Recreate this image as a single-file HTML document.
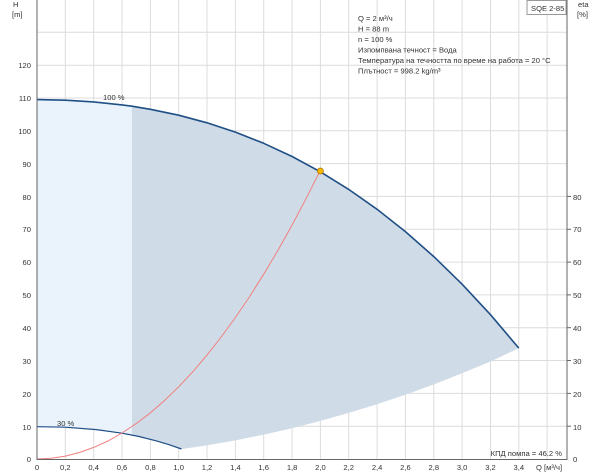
<!DOCTYPE html>
<html><head><meta charset="utf-8"><style>
html,body{margin:0;padding:0;background:#fff;}
svg{display:block;font-family:"Liberation Sans",sans-serif;}
text{font-size:7.6px;fill:#333;}
</style></head><body>
<svg width="600" height="474" viewBox="0 0 600 474">
<g stroke="#dcdcdc" stroke-width="1">
<line x1="65.3" y1="0" x2="65.3" y2="459"/><line x1="93.7" y1="0" x2="93.7" y2="459"/><line x1="122" y1="0" x2="122" y2="459"/><line x1="150.4" y1="0" x2="150.4" y2="459"/><line x1="178.7" y1="0" x2="178.7" y2="459"/><line x1="207" y1="0" x2="207" y2="459"/><line x1="235.4" y1="0" x2="235.4" y2="459"/><line x1="263.7" y1="0" x2="263.7" y2="459"/><line x1="292.1" y1="0" x2="292.1" y2="459"/><line x1="320.4" y1="0" x2="320.4" y2="459"/><line x1="348.7" y1="0" x2="348.7" y2="459"/><line x1="377.1" y1="0" x2="377.1" y2="459"/><line x1="405.4" y1="0" x2="405.4" y2="459"/><line x1="433.8" y1="0" x2="433.8" y2="459"/><line x1="462.1" y1="0" x2="462.1" y2="459"/><line x1="490.5" y1="0" x2="490.5" y2="459"/><line x1="518.8" y1="0" x2="518.8" y2="459"/><line x1="547.1" y1="0" x2="547.1" y2="459"/>
<line x1="37" y1="426.2" x2="567" y2="426.2"/><line x1="37" y1="393.4" x2="567" y2="393.4"/><line x1="37" y1="360.5" x2="567" y2="360.5"/><line x1="37" y1="327.7" x2="567" y2="327.7"/><line x1="37" y1="294.9" x2="567" y2="294.9"/><line x1="37" y1="262.1" x2="567" y2="262.1"/><line x1="37" y1="229.3" x2="567" y2="229.3"/><line x1="37" y1="196.4" x2="567" y2="196.4"/><line x1="37" y1="163.6" x2="567" y2="163.6"/><line x1="37" y1="130.8" x2="567" y2="130.8"/><line x1="37" y1="98" x2="567" y2="98"/><line x1="37" y1="65.2" x2="567" y2="65.2"/><line x1="37" y1="32.3" x2="567" y2="32.3"/>
</g>
<path d="M37,99.6 L65.3,100.2 L93.7,101.9 L122,104.9 L131.9,106.2 L131.9,435 L122,433.2 L96.5,429.6 L65.3,427.2 L37,426.7 Z" fill="#eaf3fc"/>
<path d="M131.9,106.2 L150.4,109.3 L178.7,115.2 L207,122.8 L235.4,132.1 L263.7,143.3 L292.1,156.5 L320.4,171.8 L348.7,189.4 L377.1,209.3 L405.4,231.6 L433.8,256.6 L462.1,284.2 L490.5,314.7 L518.8,348.1 L490.5,361.5 L462.1,373.3 L433.8,384.4 L405.4,394.7 L377.1,404.2 L348.7,412.9 L320.4,420.9 L292.1,428.2 L263.7,434.6 L235.4,440.4 L207,445.3 L181.5,449.1 L168.8,444.6 L156,440.8 L139,436.5 L131.9,435 Z" fill="#cfdbe6"/>
<path d="M37,99.6 L65.3,100.2 L93.7,101.9 L122,104.9 L131.9,106.2 L150.4,109.3 L178.7,115.2 L207,122.8 L235.4,132.1 L263.7,143.3 L292.1,156.5 L320.4,171.8 L348.7,189.4 L377.1,209.3 L405.4,231.6 L433.8,256.6 L462.1,284.2 L490.5,314.7 L518.8,348.1" fill="none" stroke="#1f4f86" stroke-width="1.6" stroke-linejoin="round"/>
<path d="M37,426.7 L65.3,427.2 L96.5,429.6 L122,433.2 L139,436.5 L156,440.8 L168.8,444.6 L181.5,449" fill="none" stroke="#1f4f86" stroke-width="1.2" stroke-linejoin="round"/>
<path d="M37,459 L51.2,458.3 L65.3,456.1 L79.5,452.5 L93.7,447.4 L107.9,441 L122,433 L136.2,423.6 L150.4,412.8 L164.5,400.5 L178.7,386.8 L192.9,371.7 L207,355 L221.2,337 L235.4,317.5 L249.6,296.6 L263.7,274.2 L277.9,250.4 L292.1,225 L306.2,198.3 L320.4,170.2" fill="none" stroke="#f08080" stroke-width="1"/>
<circle cx="320.4" cy="171" r="3" fill="#f5b800" stroke="#b07000" stroke-width="0.7"/>
<g stroke="#666" stroke-width="1">
<line x1="37" y1="0" x2="37" y2="460"/><line x1="567" y1="0" x2="567" y2="460"/><line x1="37" y1="459.5" x2="567" y2="459.5"/>
</g>
<rect x="527" y="0.5" width="39" height="14" fill="#fff" stroke="#999"/>
<text x="531" y="11">SQE 2-85</text>
<g>
<text x="358" y="21">Q = 2 м³/ч</text>
<text x="358" y="31.5">H = 88 m</text>
<text x="358" y="42">n = 100 %</text>
<text x="358" y="52.5">Изпомпвана течност = Вода</text>
<text x="358" y="63">Температура на течността по време на работа = 20 °C</text>
<text x="358" y="73.5">Плътност = 998.2 kg/m³</text>
</g>
<text x="103" y="100">100 %</text>
<text x="57" y="426">30 %</text>
<text x="13" y="7">H</text><text x="12" y="17">[m]</text>
<text x="578" y="7">eta</text><text x="577" y="17">[%]</text>
<g text-anchor="end">
<text x="31" y="462">0</text><text x="31" y="430">10</text><text x="31" y="397">20</text><text x="31" y="364">30</text><text x="31" y="331">40</text><text x="31" y="298">50</text><text x="31" y="265">60</text><text x="31" y="232">70</text><text x="31" y="200">80</text><text x="31" y="167">90</text><text x="31" y="134">100</text><text x="31" y="101">110</text><text x="31" y="68">120</text>
<text x="562" y="456">КПД помпа = 46.2 %</text>
</g>
<g stroke="#666"><line x1="567" y1="426.2" x2="571" y2="426.2"/><line x1="567" y1="393.4" x2="571" y2="393.4"/><line x1="567" y1="360.5" x2="571" y2="360.5"/><line x1="567" y1="327.7" x2="571" y2="327.7"/><line x1="567" y1="294.9" x2="571" y2="294.9"/><line x1="567" y1="262.1" x2="571" y2="262.1"/><line x1="567" y1="229.3" x2="571" y2="229.3"/><line x1="567" y1="196.4" x2="571" y2="196.4"/></g>
<g>
<text x="573" y="462">0</text><text x="573" y="430">10</text><text x="573" y="397">20</text><text x="573" y="364">30</text><text x="573" y="331">40</text><text x="573" y="298">50</text><text x="573" y="265">60</text><text x="573" y="232">70</text><text x="573" y="200">80</text>
</g>
<g text-anchor="middle">
<text x="37" y="470">0</text><text x="65.3" y="470">0,2</text><text x="93.7" y="470">0,4</text><text x="122" y="470">0,6</text><text x="150.4" y="470">0,8</text><text x="178.7" y="470">1,0</text><text x="207" y="470">1,2</text><text x="235.4" y="470">1,4</text><text x="263.7" y="470">1,6</text><text x="292.1" y="470">1,8</text><text x="320.4" y="470">2,0</text><text x="348.7" y="470">2,2</text><text x="377.1" y="470">2,4</text><text x="405.4" y="470">2,6</text><text x="433.8" y="470">2,8</text><text x="462.1" y="470">3,0</text><text x="490.5" y="470">3,2</text><text x="518.8" y="470">3,4</text>
</g>
<text x="536" y="470">Q [м³/ч]</text>
</svg>
</body></html>
